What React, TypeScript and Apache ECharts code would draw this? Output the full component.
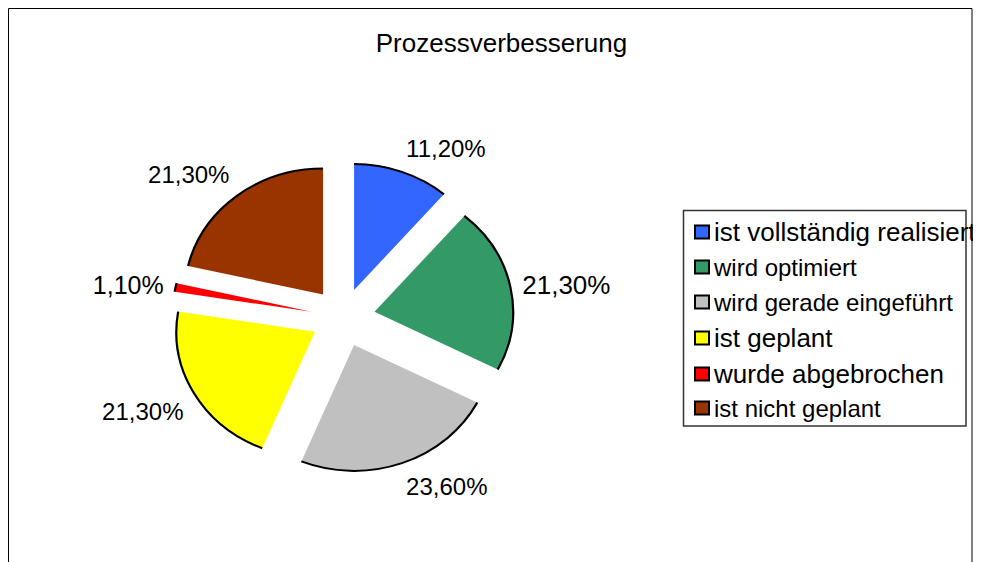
import React, { useEffect, useRef } from "react";
import * as echarts from "echarts";

const TITLE = "Prozessverbesserung";
const CATEGORIES = [
  "ist vollständig realisiert",
  "wird optimiert",
  "wird gerade eingeführt",
  "ist geplant",
  "wurde abgebrochen",
  "ist nicht geplant",
];
const VALUES = [11.2, 21.3, 23.6, 21.3, 1.1, 21.3];
const COLORS = ["#3366FF", "#339966", "#C0C0C0", "#FFFF00", "#FF0000", "#993300"];

// styles / layout (not data)
const LABEL_FONT_SIZES = [24, 26, 24, 24, 25, 24];
const LEGEND_FONT_SIZES = [26, 24, 24, 26, 26, 24];
const LEGEND_CENTERS = [224, 259, 294, 330, 366, 400];

const FONT = "'Liberation Sans', Arial, Helvetica, sans-serif";
const CX = 335;
const CY = 309.5;
const R = 126;
const SX = 1.1;
const EXPLODE = 29.2;
const GAP = 12;

const fmt = (v: number) => v.toFixed(2).replace(".", ",") + "%";
const TOTAL = VALUES.reduce((a, b) => a + b, 0);

function renderSlice(params: any, api: any) {
  const i = params.seriesIndex;
  const before = VALUES.slice(0, i).reduce((a, b) => a + b, 0);
  const v = api.value(0);
  const t0 = (before / TOTAL) * Math.PI * 2;
  const t1 = ((before + v) / TOTAL) * Math.PI * 2;
  const tm = (t0 + t1) / 2;
  const s = Math.sin(tm);
  const c = Math.cos(tm);
  const ox = EXPLODE * s;
  const oy = -EXPLODE * c;
  const a0 = t0 - Math.PI / 2;
  const a1 = t1 - Math.PI / 2;
  const px = CX + SX * (EXPLODE + R) * s;
  const py = CY - (EXPLODE + R) * c;
  const lx = px + s * GAP;
  const ly = py - c * GAP;
  const align = s >= 0 ? "left" : "right";
  const vAlign = Math.abs(c) < 0.3 ? "middle" : c > 0 ? "bottom" : "top";
  return {
    type: "group",
    children: [
      {
        type: "group",
        x: CX,
        y: CY,
        scaleX: SX,
        scaleY: 1,
        children: [
          {
            type: "sector",
            shape: { cx: ox, cy: oy, r0: 0, r: R, startAngle: a0, endAngle: a1, clockwise: true },
            style: { fill: COLORS[i] },
          },
          {
            type: "arc",
            shape: { cx: ox, cy: oy, r: R, startAngle: a0, endAngle: a1, clockwise: true },
            style: { stroke: "#000", lineWidth: 2, fill: "none" },
          },
        ],
      },
      {
        type: "text",
        x: lx,
        y: ly,
        style: {
          text: fmt(v),
          fill: "#000",
          fontSize: LABEL_FONT_SIZES[i],
          fontFamily: FONT,
          align,
          verticalAlign: vAlign,
        },
      },
    ],
  };
}

export default function App() {
  const ref = useRef<HTMLDivElement>(null);
  useEffect(() => {
    if (!ref.current) return;
    const chart = echarts.init(ref.current, undefined, { renderer: "svg" });
    const option: any = {
      animation: false,
      backgroundColor: "#fff",
      title: {
        text: TITLE,
        left: 493.5,
        top: 19.5,
        padding: 0,
        textAlign: "center",
        textStyle: {
          fontSize: 26,
          fontWeight: "normal",
          fontFamily: FONT,
          color: "#000",
          lineHeight: 30,
        },
      },
      legend: CATEGORIES.map((name, i) => ({
        left: 686,
        top: LEGEND_CENTERS[i] - 15,
        orient: "vertical",
        padding: 0,
        itemWidth: 14,
        itemHeight: 13,
        icon: "rect",
        selectedMode: false,
        itemStyle: { borderColor: "#000", borderWidth: 2 },
        textStyle: {
          fontFamily: FONT,
          color: "#000",
          fontSize: LEGEND_FONT_SIZES[i],
          lineHeight: 30,
        },
        data: [
          {
            name,
            itemStyle: { color: COLORS[i], borderColor: "#000", borderWidth: 2 },
          },
        ],
      })),
      graphic: [
        {
          type: "rect",
          z: -1,
          shape: { x: 0.5, y: 0.5, width: 963.5, height: 700 },
          style: { fill: "none", stroke: "#000", lineWidth: 1 },
        },
        {
          type: "rect",
          shape: { x: 675.5, y: 202.5, width: 282.5, height: 215.5 },
          style: { fill: "none", stroke: "#333", lineWidth: 1.5 },
        },
      ],
      series: CATEGORIES.map((name, i) => ({
        type: "custom",
        name,
        coordinateSystem: "none",
        silent: true,
        itemStyle: { color: COLORS[i] },
        data: [[VALUES[i]]],
        renderItem: renderSlice,
      })),
    };
    chart.setOption(option);
    return () => chart.dispose();
  }, []);
  return <div ref={ref} style={{ width: 973, height: 554 }} />;
}
